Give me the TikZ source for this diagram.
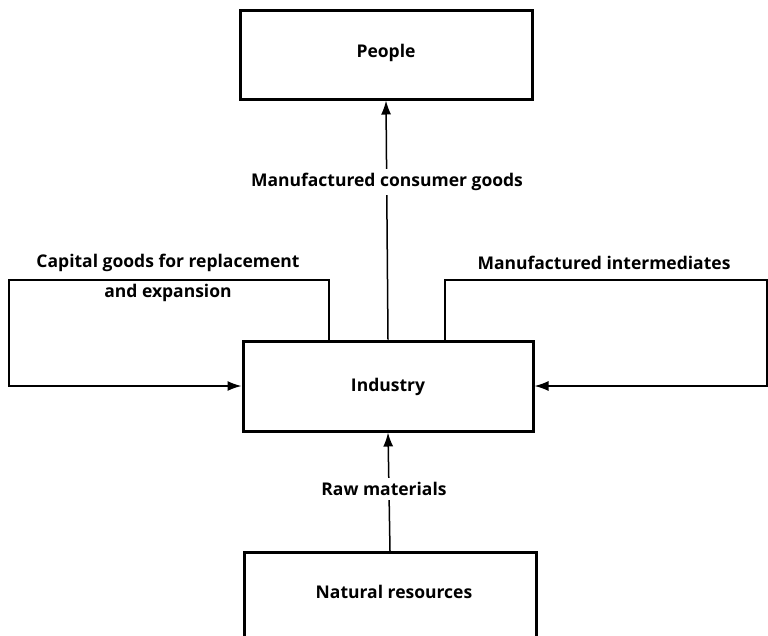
\documentclass[tikz,border=0pt]{standalone}
\usepackage{fontspec}
\setmainfont{Open Sans}
\usetikzlibrary{arrows.meta,calc}
\tikzset{
  box/.style={draw, line width=3pt, rectangle, inner sep=0pt},
  conn/.style={line width=1.5pt},
  arr/.style={conn, -{Latex[length=14pt,width=10pt]}},
  lbl/.style={font=\fontsize{17.5}{21}\selectfont\bfseries, inner sep=1pt},
  gaplbl/.style={lbl, fill=white, inner sep=4pt}
}
\begin{document}
\begin{tikzpicture}[x=1pt,y=-1pt]
\useasboundingbox (0,0) rectangle (768,635);
\clip (0,0) rectangle (768,635);
\fill[white] (0,0) rectangle (768,635);
% boxes
\node[box, minimum width=292pt, minimum height=89pt] (people) at (386,54.5) {};
\node[lbl] (peopletxt) at (386,53) {People};
\node[box, minimum width=290pt, minimum height=90pt] (ind) at (388,386) {};
\node[lbl] (indtxt) at (388,387) {Industry};
\node[box, minimum width=292pt, minimum height=120pt, anchor=north] (nr) at (390,551) {};
\node[lbl] (nrtxt) at (394,592) {Natural resources};
% vertical flows
\draw[arr] (ind.north) -- (people.south);
\node[gaplbl] (mcg) at (387,182) {Manufactured consumer goods};
\draw[arr] (nr.north) -- (ind.south);
\node[gaplbl] (raw) at (384,489) {Raw materials};
% left loop
\coordinate (lt) at (329,280);
\coordinate (ll) at (9,280);
\draw[arr] (lt |- ind.north) -- (lt) -- (ll) |- (ind.west);
\node[lbl] (cap1) at (168,263) {Capital goods for replacement};
\node[lbl] (cap2) at (168,293) {and expansion};
% right loop
\coordinate (rt) at (445,280);
\coordinate (rr) at (767,280);
\draw[arr] (rt |- ind.north) -- (rt) -- (rr) |- (ind.east);
\node[lbl] (mi) at (604,263) {Manufactured intermediates};
\end{tikzpicture}
\end{document}
